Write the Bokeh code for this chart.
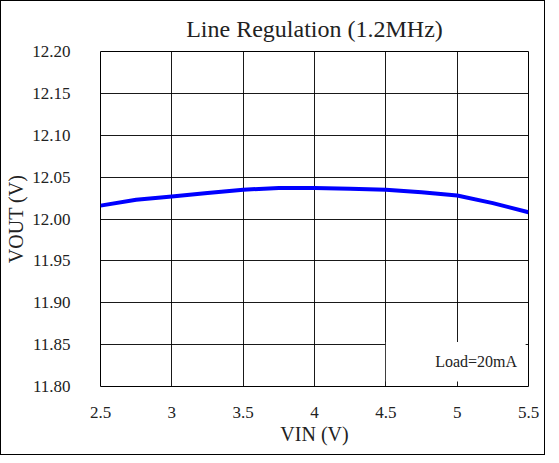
from bokeh.plotting import figure
from bokeh.models import Label, BoxAnnotation, FixedTicker, Range1d
from bokeh.embed import file_html
from bokeh.resources import INLINE

vin = [2.5, 2.75, 3.0, 3.25, 3.5, 3.75, 4.0, 4.25, 4.5, 4.75, 5.0, 5.25, 5.5]
vout = [12.016, 12.023, 12.027, 12.031, 12.035, 12.037, 12.037, 12.036, 12.035, 12.032, 12.028, 12.019, 12.008]
x_ticks = [2.5, 3.0, 3.5, 4.0, 4.5, 5.0, 5.5]
x_tick_labels = ["2.5", "3", "3.5", "4", "4.5", "5", "5.5"]
y_ticks = [11.80, 11.85, 11.90, 11.95, 12.00, 12.05, 12.10, 12.15, 12.20]
y_tick_labels = ["11.80", "11.85", "11.90", "11.95", "12.00", "12.05", "12.10", "12.15", "12.20"]

FONT = "Liberation Serif"
X_MIN, X_MAX = x_ticks[0], x_ticks[-1]
Y_MIN, Y_MAX = y_ticks[0], y_ticks[-1]

p = figure(width=545, height=455, output_backend="svg", toolbar_location=None,
           x_range=Range1d(X_MIN, X_MAX), y_range=Range1d(Y_MIN, Y_MAX),
           min_border_left=99, min_border_right=18, min_border_top=50, min_border_bottom=70,
           title="Line Regulation (1.2MHz)")
p.styles = {"border": "1px solid black"}
p.background_fill_color = "white"
p.border_fill_color = "white"
p.outline_line_color = "black"
p.outline_line_width = 1

p.title.align = "center"
p.title.text_font = FONT
p.title.text_font_size = "24px"
p.title.text_font_style = "normal"
p.title.text_color = "#222222"
p.title.offset = 0
p.title.standoff = 20

xa = p.xaxis[0]
ya = p.yaxis[0]
xa.ticker = FixedTicker(ticks=x_ticks)
ya.ticker = FixedTicker(ticks=y_ticks)
ya.major_label_overrides = dict(zip(y_ticks, y_tick_labels))
xa.major_label_overrides = dict(zip(x_ticks, x_tick_labels))
for ax in (xa, ya):
    ax.axis_line_color = None
    ax.major_tick_line_color = None
    ax.minor_tick_line_color = None
    ax.major_label_text_font = "serif"
    ax.major_label_text_font_size = "17px"
    ax.major_label_text_font_style = "normal"
    ax.major_label_text_color = "#222222"
    ax.axis_label_text_font = FONT
    ax.axis_label_text_font_size = "20px"
    ax.axis_label_text_font_style = "normal"
    ax.axis_label_text_color = "#222222"
xa.major_label_standoff = 14
ya.major_label_standoff = 24
xa.axis_label = "VIN (V)"
ya.axis_label = "VOUT (V)"
xa.axis_label_standoff = 2
ya.axis_label_standoff = 2

p.grid.grid_line_color = "black"
p.grid.grid_line_width = 1
p.grid.grid_line_alpha = 0.9

p.line(vin, vout, line_color="#0000FF", line_width=4)

p.add_layout(BoxAnnotation(left=4.5, right=5.48, bottom=11.806, top=11.853,
                           fill_color="white", fill_alpha=1.0, line_color=None))
p.add_layout(Label(x=5.42, y=11.83, text="Load=20mA", text_align="right", text_baseline="middle",
                   text_font=FONT, text_font_size="16px", text_color="#222222"))

open("out.html", "w").write(file_html(p, INLINE))
